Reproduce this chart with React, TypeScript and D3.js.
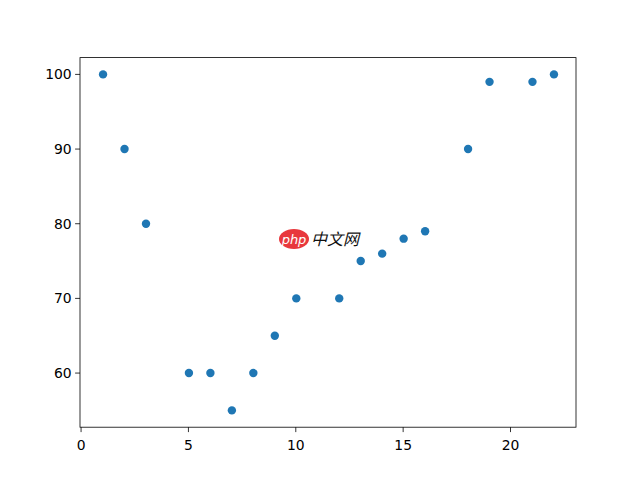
import React from "react";
import * as d3 from "d3";

const xValues = [1, 2, 3, 5, 6, 7, 8, 9, 10, 12, 13, 14, 15, 16, 18, 19, 21, 22];
const yValues = [100, 90, 80, 60, 60, 55, 60, 65, 70, 70, 75, 76, 78, 79, 90, 99, 99, 100];
const xTicks = [0, 5, 10, 15, 20];
const yTicks = [60, 70, 80, 90, 100];

const W = 640, H = 480;
const L = 80, R = 576, T = 57.6, B = 427.2;

export default function App() {
  const xMin = d3.min(xValues)!, xMax = d3.max(xValues)!;
  const yMin = d3.min(yValues)!, yMax = d3.max(yValues)!;
  const xp = (xMax - xMin) * 0.05, yp = (yMax - yMin) * 0.05;
  const x = d3.scaleLinear().domain([xMin - xp, xMax + xp]).range([L, R]);
  const y = d3.scaleLinear().domain([yMin - yp, yMax + yp]).range([B, T]);
  const font = "DejaVu Sans, sans-serif";
  return (
    <svg width={W} height={H} style={{ position: "absolute", left: 0, top: 0, background: "#fff" }}>
      <rect x={0} y={0} width={W} height={H} fill="#fff" />
      {xValues.map((v, i) => (
        <circle key={i} cx={x(v) + 0.5} cy={y(yValues[i])} r={4.2} fill="#1f77b4" />
      ))}
      <g>
        <ellipse cx={294} cy={239} rx={15} ry={10} fill="#e8383d" />
        <text x={294} y={243.5} textAnchor="middle" fill="#fff" fontSize={13} fontStyle="italic" fontFamily={font}>php</text>
        <text x={311} y={245} fill="#111" fontSize={16} fontStyle="italic" fontFamily="Noto Sans CJK SC, sans-serif">中文网</text>
      </g>
      <rect x={L} y={T} width={R - L} height={B - T} fill="none" stroke="#000" strokeWidth={0.8} />
      {xTicks.map((t) => (
        <g key={t} transform={`translate(${x(t)},${B})`}>
          <line y1={0} y2={4.9} stroke="#000" strokeWidth={0.8} />
          <text y={19} textAnchor="middle" fontSize={13.9} fill="#000" fontFamily={font} dominantBaseline="middle">{t}</text>
        </g>
      ))}
      {yTicks.map((t) => (
        <g key={t} transform={`translate(${L},${y(t)})`}>
          <line x1={0} x2={-4.9} stroke="#000" strokeWidth={0.8} />
          <text x={-8.3} textAnchor="end" fontSize={13.9} fill="#000" fontFamily={font} dominantBaseline="central">{t}</text>
        </g>
      ))}
    </svg>
  );
}
